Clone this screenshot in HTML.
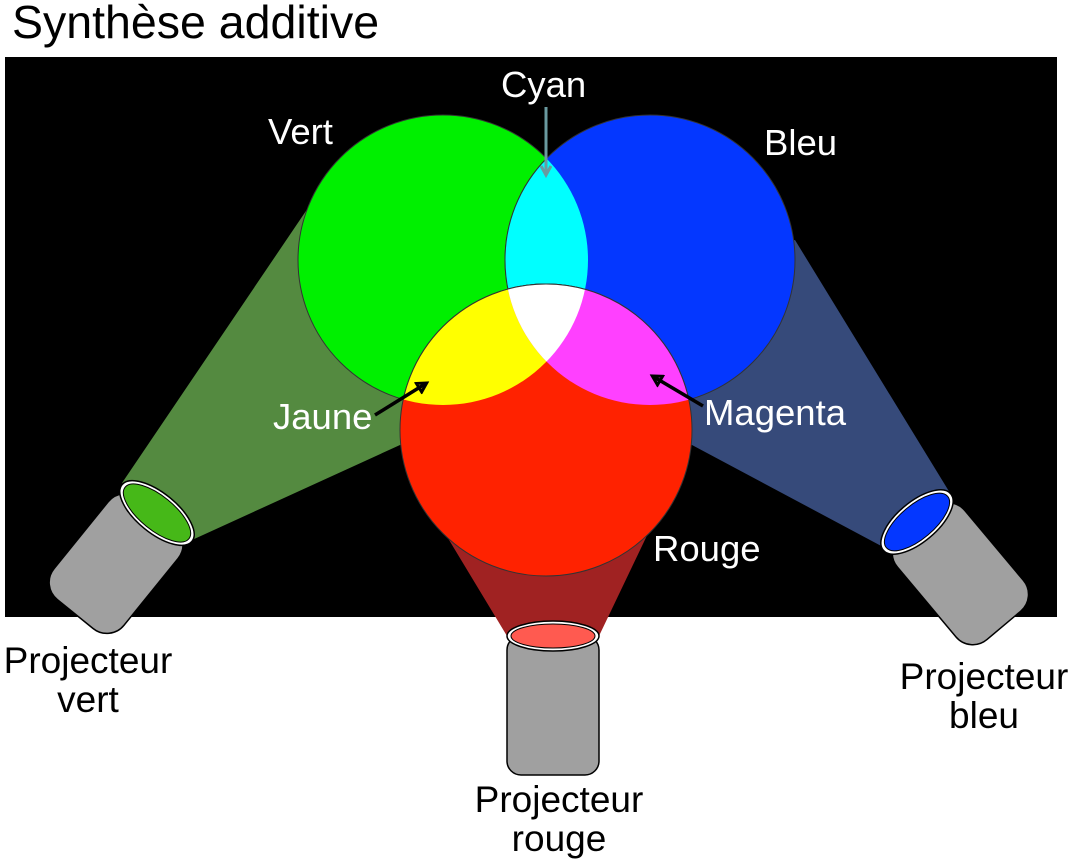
<!DOCTYPE html>
<html><head><meta charset="utf-8"><style>
html,body{margin:0;padding:0;background:#fff;}
svg{display:block;}
text{font-family:"Liberation Sans",Arial,sans-serif;}
</style></head><body>
<svg width="1078" height="865" viewBox="0 0 1078 865" xmlns="http://www.w3.org/2000/svg">
<defs>
<clipPath id="cg"><circle cx="443" cy="260" r="145"/></clipPath>
<clipPath id="cb"><circle cx="650" cy="260" r="145"/></clipPath>
<marker id="ah" markerWidth="14" markerHeight="14" refX="9" refY="7" orient="auto" markerUnits="userSpaceOnUse">
<path d="M2,2 L11,7 L2,12 Z" fill="none" stroke="#000" stroke-width="3"/></marker>
<marker id="ahc" markerWidth="14" markerHeight="12" refX="7" refY="6" orient="auto" markerUnits="userSpaceOnUse">
<path d="M1,1 L10,6 L1,11" fill="none" stroke="#6a9aa0" stroke-width="3"/></marker>
</defs>
<text x="12" y="38" font-size="46.5" fill="#000">Synthèse additive</text>
<rect x="5" y="57" width="1052" height="560" fill="#000"/>
<polygon points="122,483 310,205 443,260 546,430 400,445 192,540" fill="#548a40"/>
<polygon points="950,493 795,240 650,260 546,430 692,445 885,548" fill="#364a7a"/>
<polygon points="507,636 440,525 652,525 599,636" fill="#a02222"/>
<circle cx="443" cy="260" r="145" fill="#00f000" stroke="#333" stroke-width="1"/>
<circle cx="650" cy="260" r="145" fill="#0437ff" stroke="#333" stroke-width="1"/>
<circle cx="546" cy="430" r="146" fill="#ff2200" stroke="#333" stroke-width="1"/>
<g clip-path="url(#cg)"><circle cx="650" cy="260" r="145" fill="#00ffff" stroke="#333"/></g>
<g clip-path="url(#cg)"><circle cx="546" cy="430" r="146" fill="#ffff00" stroke="#333"/></g>
<g clip-path="url(#cb)"><circle cx="546" cy="430" r="146" fill="#ff40ff" stroke="#333"/></g>
<g clip-path="url(#cg)"><g clip-path="url(#cb)"><circle cx="546" cy="430" r="146" fill="#ffffff" stroke="#333"/></g></g>
<line x1="546" y1="107" x2="546" y2="172" stroke="#6a9aa0" stroke-width="3" marker-end="url(#ahc)"/>
<line x1="375" y1="415" x2="425" y2="384" stroke="#000" stroke-width="3.5" marker-end="url(#ah)"/>
<line x1="703" y1="406" x2="654" y2="377" stroke="#000" stroke-width="3.5" marker-end="url(#ah)"/>
<g font-size="36.5" fill="#fff">
<text x="501" y="97">Cyan</text>
<text x="268" y="144">Vert</text>
<text x="764" y="155">Bleu</text>
<text x="273" y="429">Jaune</text>
<text x="704" y="425">Magenta</text>
<text x="653" y="561">Rouge</text>
</g>
<g transform="translate(157,513) rotate(39)">
<rect x="-45" y="0" width="90" height="130" rx="22" fill="#a0a0a0" stroke="#000" stroke-width="1.5"/>
<ellipse cx="0" cy="0" rx="45" ry="20" fill="#fff" stroke="#000" stroke-width="1.5"/>
<ellipse cx="0" cy="0" rx="41" ry="17" fill="#46b818" stroke="#000" stroke-width="1"/>
</g>
<g transform="translate(917,522) rotate(-40)">
<rect x="-44" y="0" width="88" height="135" rx="22" fill="#a0a0a0" stroke="#000" stroke-width="1.5"/>
<ellipse cx="0" cy="0" rx="44" ry="20" fill="#fff" stroke="#000" stroke-width="1.5"/>
<ellipse cx="0" cy="0" rx="40" ry="17" fill="#0437ff" stroke="#000" stroke-width="1"/>
</g>
<g transform="translate(553,636)">
<rect x="-46" y="0" width="92" height="139" rx="14" fill="#a0a0a0" stroke="#000" stroke-width="1.5"/>
<ellipse cx="0" cy="0" rx="46" ry="15" fill="#fff" stroke="#000" stroke-width="1.5"/>
<ellipse cx="0" cy="0" rx="42" ry="12" fill="#ff5a50" stroke="#000" stroke-width="1"/>
</g>
<g font-size="37" fill="#000" text-anchor="middle">
<text x="88" y="673">Projecteur</text>
<text x="88" y="712">vert</text>
<text x="984" y="689">Projecteur</text>
<text x="984" y="728">bleu</text>
<text x="559" y="812">Projecteur</text>
<text x="559" y="851">rouge</text>
</g>
</svg>
</body></html>
